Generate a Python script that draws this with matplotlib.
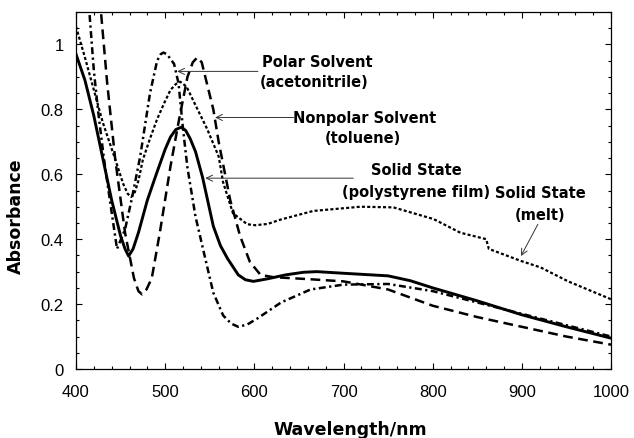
import matplotlib
matplotlib.use("Agg")
import matplotlib.pyplot as plt
from matplotlib.ticker import MultipleLocator, FuncFormatter

# ---- data ----
wl_film = [400, 410, 420, 430, 440, 450, 455, 459, 464, 470, 480, 490, 500, 506, 512, 518, 523, 528, 534,
           542, 554, 562, 570, 582, 590, 599, 615, 635, 655, 670, 700, 750, 775, 800, 850, 900, 950, 1000]
abs_film = [0.97, 0.89, 0.78, 0.65, 0.52, 0.41, 0.37, 0.348, 0.37, 0.42, 0.52, 0.60, 0.677, 0.715, 0.738, 0.745, 0.735, 0.71, 0.67,
            0.59, 0.44, 0.38, 0.34, 0.29, 0.275, 0.27, 0.278, 0.29, 0.298, 0.30, 0.295, 0.287, 0.272, 0.25, 0.21, 0.167, 0.13, 0.095]

wl_toluene = [420, 428, 435, 444, 455, 465, 470, 474, 479, 485, 494, 506, 515, 525, 531, 536, 541, 545, 554,
              560, 573, 584, 595, 607, 621, 660, 700, 750, 800, 850, 900, 950, 1000]
abs_toluene = [1.35, 1.10, 0.88, 0.646, 0.42, 0.28, 0.24, 0.23, 0.245, 0.28, 0.42, 0.625, 0.76, 0.90, 0.945, 0.96, 0.945, 0.90, 0.80,
               0.70, 0.52, 0.41, 0.33, 0.29, 0.283, 0.277, 0.27, 0.245, 0.195, 0.16, 0.13, 0.10, 0.075]

wl_acn = [410, 415, 420, 425, 431, 438, 446, 455, 463, 472, 483, 491, 495, 498, 502, 506, 510, 515, 520,
          525, 534, 545, 554, 565, 574, 582, 592, 603, 630, 663, 700, 750, 800, 850, 900, 950, 1000]
abs_acn = [1.28, 1.10, 0.92, 0.79, 0.655, 0.52, 0.37, 0.43, 0.53, 0.655, 0.85, 0.95, 0.97, 0.975, 0.97, 0.955, 0.94, 0.88, 0.74,
           0.62, 0.47, 0.34, 0.235, 0.165, 0.14, 0.13, 0.137, 0.155, 0.205, 0.245, 0.26, 0.262, 0.24, 0.205, 0.17, 0.135, 0.10]

wl_melt = [400, 410, 420, 430, 444, 453, 458, 462, 466, 470, 475, 483, 491, 499, 506, 512, 517, 524, 531,
           547, 560, 565, 576, 592, 601, 615, 629, 666, 719, 756, 801, 831, 860, 863, 899, 921, 952, 1000]
abs_melt = [1.055, 0.96, 0.86, 0.76, 0.646, 0.57, 0.54, 0.53, 0.545, 0.58, 0.645, 0.71, 0.77, 0.82, 0.86, 0.878, 0.885, 0.87, 0.83,
            0.74, 0.655, 0.575, 0.48, 0.446, 0.443, 0.447, 0.46, 0.487, 0.50, 0.498, 0.462, 0.42, 0.40, 0.37, 0.333, 0.313, 0.27, 0.215]

x_ticks = [400, 500, 600, 700, 800, 900, 1000]
y_ticks = [0, 0.2, 0.4, 0.6, 0.8, 1.0]

plt.rcParams['lines.scale_dashes'] = False

fig = plt.figure(figsize=(6.34, 4.39), dpi=100)
ax = fig.add_axes([76/634, 1 - 370/439, 535/634, 357/439])

ax.plot(wl_film, abs_film, color='black', lw=2.1, solid_joinstyle='round')
ax.plot(wl_toluene, abs_toluene, color='black', lw=1.8, linestyle=(0, (7, 4)))
ax.plot(wl_acn, abs_acn, color='black', lw=1.8, linestyle=(0, (5, 2.5, 1.6, 2.5)))
ax.plot(wl_melt, abs_melt, color='black', lw=1.6, linestyle=(0, (2.2, 1.6)))

ax.set_xlim(400, 1000)
ax.set_ylim(0, 1.1)
ax.set_xticks(x_ticks)
ax.set_yticks(y_ticks)
ax.xaxis.set_minor_locator(MultipleLocator(20))
ax.yaxis.set_minor_locator(MultipleLocator(0.05))
ax.yaxis.set_major_formatter(FuncFormatter(lambda v, p: f"{v:g}"))

tick_font = 'Liberation Sans'
ax.tick_params(which='both', direction='in', top=True, right=True, width=0.8)
ax.tick_params(which='major', length=4)
ax.tick_params(which='minor', length=2.5)
ax.tick_params(axis='x', which='major', pad=11)
ax.tick_params(axis='y', which='major', pad=9)
for lab in ax.get_xticklabels() + ax.get_yticklabels():
    lab.set_fontfamily(tick_font)
    lab.set_fontsize(12)
for s in ax.spines.values():
    s.set_linewidth(0.9)

ax.set_xlabel('Wavelength/nm', fontsize=12.5, fontweight='bold', family='DejaVu Sans')
ax.xaxis.set_label_coords(0.512, -0.143)
ax.set_ylabel('Absorbance', fontsize=12.5, fontweight='bold', family='DejaVu Sans')
ax.yaxis.set_label_coords(-0.095, 0.43)

tkw = dict(fontsize=10.5, fontweight='bold', family='DejaVu Sans', ha='center', va='center')
ax.text(671, 0.948, 'Polar Solvent', **tkw)
ax.text(667, 0.886, '(acetonitrile)', **tkw)
ax.text(724, 0.775, 'Nonpolar Solvent', **tkw)
ax.text(722, 0.714, '(toluene)', **tkw)
ax.text(782, 0.615, 'Solid State', **tkw)
ax.text(781, 0.548, '(polystyrene film)', **tkw)
ax.text(921, 0.545, 'Solid State', **tkw)
ax.text(921, 0.477, '(melt)', **tkw)

aprops = dict(arrowstyle='->,head_length=0.45,head_width=0.22', lw=0.7, color='#333333',
              shrinkA=0, shrinkB=0)
ax.annotate('', xy=(513.5, 0.917), xytext=(604, 0.917), arrowprops=aprops)
ax.annotate('', xy=(556, 0.775), xytext=(644, 0.775), arrowprops=aprops)
ax.annotate('', xy=(545, 0.588), xytext=(711, 0.588), arrowprops=aprops)
ax.annotate('', xy=(899, 0.348), xytext=(918, 0.446), arrowprops=aprops)

fig.savefig('out.png', dpi=100)
